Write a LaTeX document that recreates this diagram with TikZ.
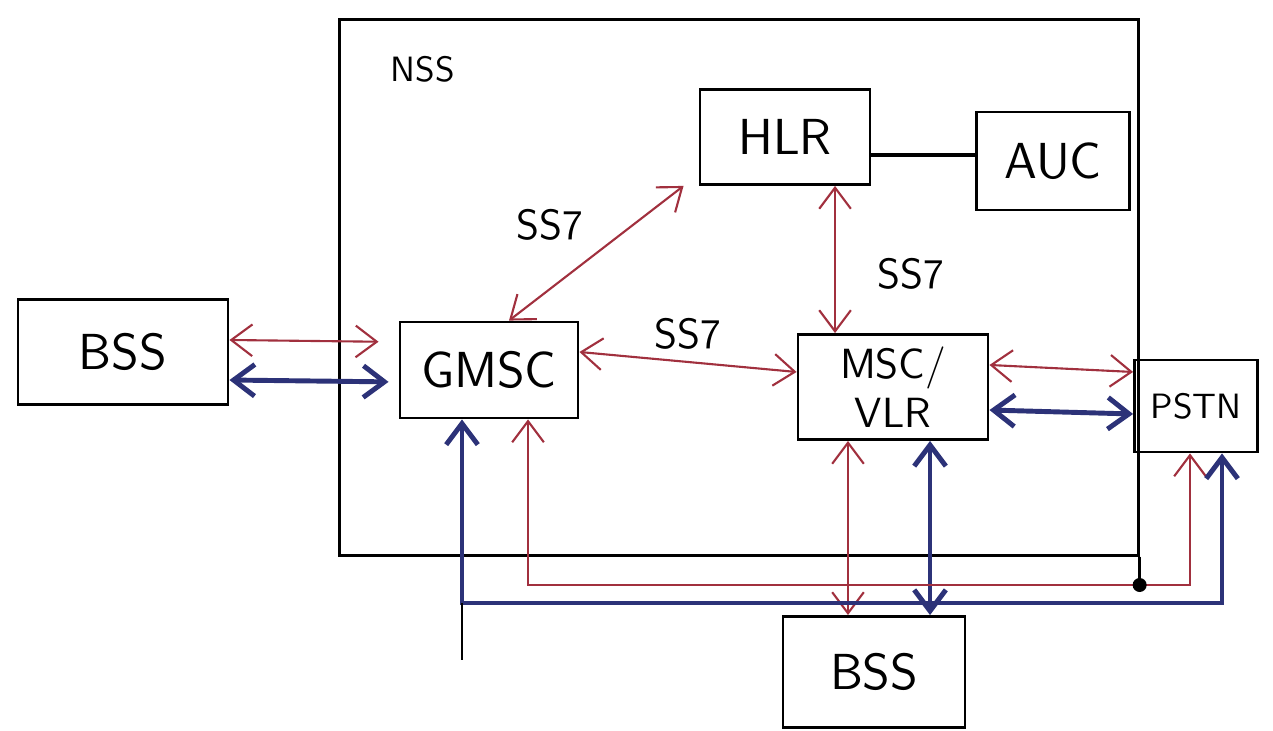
\documentclass[tikz,border=0pt]{standalone}
\usepackage{xcolor}
\usepackage{tikz}
\usetikzlibrary{positioning,arrows.meta,calc}
\definecolor{mSigRed}{HTML}{A1303E}
\definecolor{mBusBlue}{HTML}{2C3278}

\begin{document}
\begin{tikzpicture}[x=0.01cm, y=-0.01cm, font=\sffamily\Large,
  unit/.style={draw, thick, inner sep=0pt},
  sig/.style={{Straight Barb[length=6pt,width=9pt]}-{Straight Barb[length=6pt,width=9pt]}, mSigRed, semithick},
  trunk/.style={{Straight Barb[length=6pt,width=9pt]}-{Straight Barb[length=6pt,width=9pt]}, mBusBlue, line width=1.4pt},
  lbl/.style={font=\sffamily\large, text=black}]
\useasboundingbox (0,0) rectangle (1273,731);
\node[unit, minimum width=7.98cm, minimum height=5.35cm] (nss) at (739,287.5) {};
\node[font=\sffamily\normalsize, anchor=north west] (nssLabel) at ([xshift=.4cm,yshift=-.25cm]nss.north west) {NSS};
\node[unit, minimum width=2.1cm, minimum height=1.05cm] (bssL) at (123,352) {BSS};
\node[unit, minimum width=1.78cm, minimum height=0.96cm] (gmsc) at (489,370) {GMSC};
\node[unit, minimum width=1.7cm, minimum height=0.95cm] (hlr) at (785,137) {HLR};
\node[unit, minimum width=1.53cm, minimum height=0.98cm] (auc) at (1053,161) {AUC};
\node[unit, minimum width=1.9cm, minimum height=1.05cm, align=center, font=\sffamily\large] (msc) at (893,387) {MSC/\\VLR};
\node[unit, minimum width=1.23cm, minimum height=0.92cm, font=\sffamily\normalsize] (pstn) at (1196,406) {PSTN};
\node[unit, minimum width=1.82cm, minimum height=1.11cm] (bssB) at (874,672) {BSS};
\draw[sig, shorten >=0.2cm] ([yshift=.12cm]bssL.east) -- ([yshift=.28cm]gmsc.west);
\draw[trunk, shorten >=0.1cm] ([yshift=-.28cm]bssL.east) -- ([yshift=-.12cm]gmsc.west);
\draw[sig] ([xshift=.2cm]gmsc.north) -- node[lbl, above left]{SS7} ([xshift=-.15cm]hlr.south west);
\draw[sig] ([yshift=.18cm]gmsc.east) -- node[lbl, above]{SS7} ([yshift=.15cm]msc.west);
\draw[sig] ([xshift=.5cm]hlr.south) -- node[lbl, pos=.6, right=.3cm]{SS7} ([xshift=.5cm]hlr.south |- msc.north);
\draw[very thick] ([yshift=-.18cm]hlr.east) -- ([yshift=-.18cm]hlr.east -| auc.west);
\draw[sig] ([yshift=.22cm]msc.east) -- ([yshift=.34cm]pstn.west);
\draw[trunk] ([yshift=-.23cm]msc.east) -- ([yshift=-.08cm]pstn.west);
\draw[sig] ([xshift=-.45cm]msc.south) -- ([xshift=-.45cm]msc.south |- bssB.north);
\draw[trunk] ([xshift=.37cm]msc.south) -- ([xshift=.37cm]msc.south |- bssB.north);
\coordinate (redBus) at (800,585);
\coordinate (blueBus) at (800,603);
\coordinate (stubEnd) at (462,660);
\draw[sig] ([xshift=.39cm]gmsc.south) |- (redBus) -| ([xshift=-.06cm]pstn.south);
\draw[trunk] ([xshift=-.27cm]gmsc.south) |- (blueBus) -| ([xshift=.26cm]pstn.south);
\draw[thick] (stubEnd |- blueBus) -- (stubEnd);
\coordinate (tap) at (nss.south east |- redBus);
\draw[thick] (nss.south east) -- (tap);
\fill (tap) circle (0.07cm);
\end{tikzpicture}
\end{document}
